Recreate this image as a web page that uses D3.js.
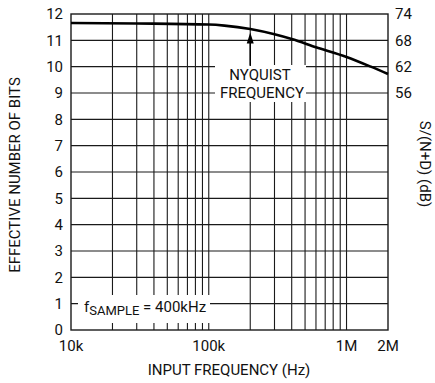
<!DOCTYPE html>
<html><head><meta charset="utf-8">
<script src="https://cdn.jsdelivr.net/npm/d3@7"></script>
<style>
body{margin:0;background:#fff;}
text{font-family:Roboto,"Liberation Sans",sans-serif;fill:#111;}
</style></head>
<body><svg id="c" width="435" height="383"></svg>
<script>
const freqs = [10e3, 30e3, 100e3, 130e3, 200e3, 300e3, 400e3, 600e3, 1e6, 1.5e6, 2e6];
const enob  = [11.66, 11.64, 11.60, 11.56, 11.43, 11.23, 11.05, 10.74, 10.37, 10.0, 9.72];
const yTicks = [0,1,2,3,4,5,6,7,8,9,10,11,12];
const xTickValues = [1e4, 1e5, 1e6, 2e6];
const xTickLabels = ["10k", "100k", "1M", "2M"];
const xGrid = [2e4,3e4,4e4,5e4,6e4,7e4,8e4,9e4,1e5,2e5,3e5,4e5,5e5,6e5,7e5,8e5,9e5,1e6];
const rightTickValues = [9, 10, 11, 12];
const rightTickLabels = ["56", "62", "68", "74"];
const nyquist = 200e3;

const L = 71, R = 388, T = 14, B = 330;
const svg = d3.select("#c");
const x = d3.scaleLog().domain([1e4, 2e6]).range([L, R]);
const y = d3.scaleLinear().domain([0, 12]).range([B, T]);
const ink = "#1a1a1a";

// grid
svg.append("g").selectAll("line").data(xGrid).join("line")
  .attr("x1", d => x(d)).attr("x2", d => x(d)).attr("y1", T).attr("y2", B)
  .attr("stroke", ink).attr("stroke-width", 1.1);
svg.append("g").selectAll("line").data(yTicks.filter(d => d > 0 && d < 12)).join("line")
  .attr("x1", L).attr("x2", R).attr("y1", d => y(d)).attr("y2", d => y(d))
  .attr("stroke", ink).attr("stroke-width", 1.1);

// label backgrounds
svg.append("rect").attr("x", 215).attr("y", 65).attr("width", 91).attr("height", 37).attr("fill", "#fff");
svg.append("rect").attr("x", 78).attr("y", 295).attr("width", 132).attr("height", 28).attr("fill", "#fff");

// border
svg.append("rect").attr("x", L).attr("y", T).attr("width", R - L).attr("height", B - T)
  .attr("fill", "none").attr("stroke", ink).attr("stroke-width", 1.4);

// curve
const line = d3.line().x((d, i) => x(freqs[i])).y(d => y(d)).curve(d3.curveMonotoneX);
svg.append("path").datum(enob).attr("d", line).attr("fill", "none")
  .attr("stroke", "#000").attr("stroke-width", 2.6);

// nyquist arrow
const ax = x(nyquist);
const tipY = y(11.43) + 3.5;
svg.append("line").attr("x1", ax).attr("x2", ax).attr("y1", 66).attr("y2", tipY + 8)
  .attr("stroke", "#000").attr("stroke-width", 1.4);
svg.append("path").attr("d", `M${ax},${tipY} L${ax - 3.5},${tipY + 11} L${ax + 3.5},${tipY + 11} Z`).attr("fill", "#000");

svg.append("text").attr("x", 260).attr("y", 80).attr("text-anchor", "middle")
  .style("font-size", "15px").text("NYQUIST");
svg.append("text").attr("x", 262).attr("y", 98).attr("text-anchor", "middle")
  .style("font-size", "15px").text("FREQUENCY");

const fs = svg.append("text").attr("x", 84).attr("y", 312).style("font-size", "15px");
fs.append("tspan").text("f");
fs.append("tspan").attr("dy", 3).style("font-size", "13px").text("SAMPLE");
fs.append("tspan").attr("dy", -3).text(" = 400kHz");

// left ticks
svg.append("g").selectAll("text").data(yTicks).join("text")
  .attr("x", 63).attr("y", d => y(d)).attr("dy", "0.36em").attr("text-anchor", "end")
  .style("font-size", "15px").text(d => d);
// right ticks
svg.append("g").selectAll("text").data(rightTickValues).join("text")
  .attr("x", 395).attr("y", d => y(d)).attr("dy", "0.36em").attr("text-anchor", "start")
  .style("font-size", "15px").text((d, i) => rightTickLabels[i]);
// bottom ticks
svg.append("g").selectAll("text").data(xTickValues).join("text")
  .attr("x", d => x(d)).attr("y", 351).attr("text-anchor", "middle")
  .style("font-size", "15px").text((d, i) => xTickLabels[i]);

// axis titles
svg.append("text").attr("x", 229).attr("y", 375).attr("text-anchor", "middle")
  .style("font-size", "15px").text("INPUT FREQUENCY (Hz)");
svg.append("text").attr("transform", "translate(20,175) rotate(-90)").attr("text-anchor", "middle")
  .style("font-size", "15px").text("EFFECTIVE NUMBER OF BITS");
svg.append("text").attr("transform", "translate(420,164) rotate(90)").attr("text-anchor", "middle")
  .style("font-size", "15px").text("S/(N+D) (dB)");
</script></body></html>
